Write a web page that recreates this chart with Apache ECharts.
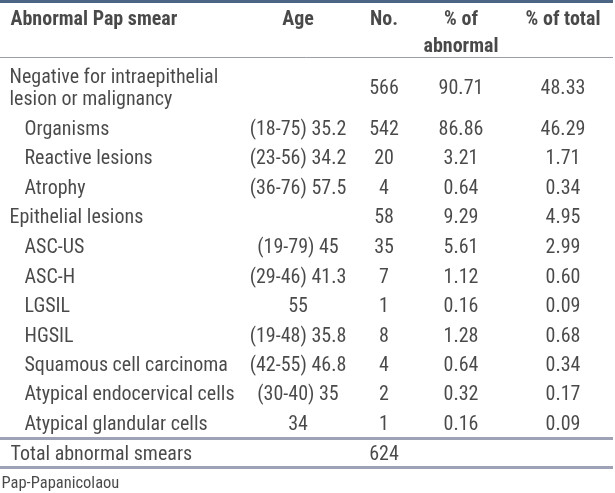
<!DOCTYPE html>
<html><head><meta charset="utf-8">
<script src="https://cdn.jsdelivr.net/npm/echarts@6/dist/echarts.min.js"></script>
<style>html,body{margin:0;padding:0;background:#fff}#c{width:615px;height:493px}</style>
</head><body><div id="c"></div>
<script>
// ---- data ----
const headers = ["Abnormal Pap smear", "Age", "No.", "% of\nabnormal", "% of total"];
const categories = ["Negative for intraepithelial\nlesion or malignancy", "Organisms", "Reactive lesions", "Atrophy",
  "Epithelial lesions", "ASC-US", "ASC-H", "LGSIL", "HGSIL", "Squamous cell carcinoma",
  "Atypical endocervical cells", "Atypical glandular cells"];
const levels = [0, 1, 1, 1, 0, 1, 1, 1, 1, 1, 1, 1];
const ages = ["", "(18-75) 35.2", "(23-56) 34.2", "(36-76) 57.5", "", "(19-79) 45", "(29-46) 41.3", "55",
  "(19-48) 35.8", "(42-55) 46.8", "(30-40) 35", "34"];
const counts = [566, 542, 20, 4, 58, 35, 7, 1, 8, 4, 2, 1];
const pctAbnormal = [90.71, 86.86, 3.21, 0.64, 9.29, 5.61, 1.12, 0.16, 1.28, 0.64, 0.32, 0.16];
const pctTotal = [48.33, 46.29, 1.71, 0.34, 4.95, 2.99, 0.60, 0.09, 0.68, 0.34, 0.17, 0.09];
const totalLabel = "Total abnormal smears";
const totalCount = 624;
const footnote = "Pap-Papanicolaou";

// ---- layout (positions in axis units = pixels) ----
const colX = [0, 298, 384, 461, 563];
const indentX = [9, 24];
const headerY = 20, headerY2 = 33;
const rowY = [89, 130, 159, 189, 218, 248, 278, 307, 337, 366, 395, 425];
const totalY = 455, footY = 484;

const FONT = '"Liberation Sans Narrow","Roboto Condensed",Roboto,sans-serif';
const TXT = '#1c1c1c';
const baseLabel = {show: true, color: TXT, fontFamily: FONT, fontSize: 20};

function textSeries(points, label) {
  return {
    type: 'scatter', symbolSize: 1, itemStyle: {color: 'rgba(0,0,0,0)'}, silent: true,
    labelLayout: {hideOverlap: false},
    data: points.map(p => ({value: [p[0], p[1]], name: p[2]})),
    label: Object.assign({}, baseLabel, {formatter: d => d.name}, label)
  };
}

const leftPts = categories.map((c, i) => [indentX[levels[i]], rowY[i], c]);
leftPts.push([10, totalY, totalLabel]);
const agePts = ages.map((a, i) => [colX[1], rowY[i], a]).filter(p => p[2] !== "");
const countPts = counts.map((v, i) => [colX[2], rowY[i], String(v)]);
countPts.push([colX[2], totalY, String(totalCount)]);
const abnPts = pctAbnormal.map((v, i) => [colX[3], rowY[i], v.toFixed(2)]);
const totPts = pctTotal.map((v, i) => [colX[4], rowY[i], v.toFixed(2)]);

const series = [
  textSeries(leftPts, {position: 'right', distance: 0, lineHeight: 22}),
  textSeries(agePts, {position: 'inside', align: 'center'}),
  textSeries(countPts, {position: 'inside', align: 'center'}),
  textSeries(abnPts, {position: 'inside', align: 'center'}),
  textSeries(totPts, {position: 'inside', align: 'center'}),
  textSeries([[10, headerY, headers[0]]], {position: 'right', distance: 0, fontWeight: 'bold'}),
  textSeries([[colX[1], headerY, headers[1]], [colX[2], headerY, headers[2]], [colX[4], headerY, headers[4]]],
    {position: 'inside', align: 'center', fontWeight: 'bold'}),
  textSeries([[colX[3], headerY2, headers[3]]], {position: 'inside', align: 'center', fontWeight: 'bold', lineHeight: 27}),
  textSeries([[1, footY, footnote]], {position: 'right', distance: 0, fontSize: 16.5}),
  {
    type: 'scatter', data: [], silent: true,
    markLine: {
      silent: true, symbol: 'none', label: {show: false},
      data: [
        {yAxis: 1.5, lineStyle: {color: '#4b6584', width: 3, type: 'solid'}},
        {yAxis: 57.5, lineStyle: {color: '#9a9ea8', width: 1, type: 'solid'}},
        {yAxis: 438.5, lineStyle: {color: '#9da2b6', width: 3, type: 'solid'}},
        {yAxis: 467.5, lineStyle: {color: '#9da2b6', width: 3, type: 'solid'}}
      ]
    }
  }
];

const chart = echarts.init(document.getElementById('c'), null, {renderer: 'canvas'});
chart.setOption({
  animation: false,
  backgroundColor: '#ffffff',
  grid: {left: 0, right: 2, top: 0, bottom: 0},
  xAxis: {type: 'value', min: 0, max: 613, show: false},
  yAxis: {type: 'value', min: 0, max: 493, inverse: true, show: false},
  series: series
});
</script></body></html>
